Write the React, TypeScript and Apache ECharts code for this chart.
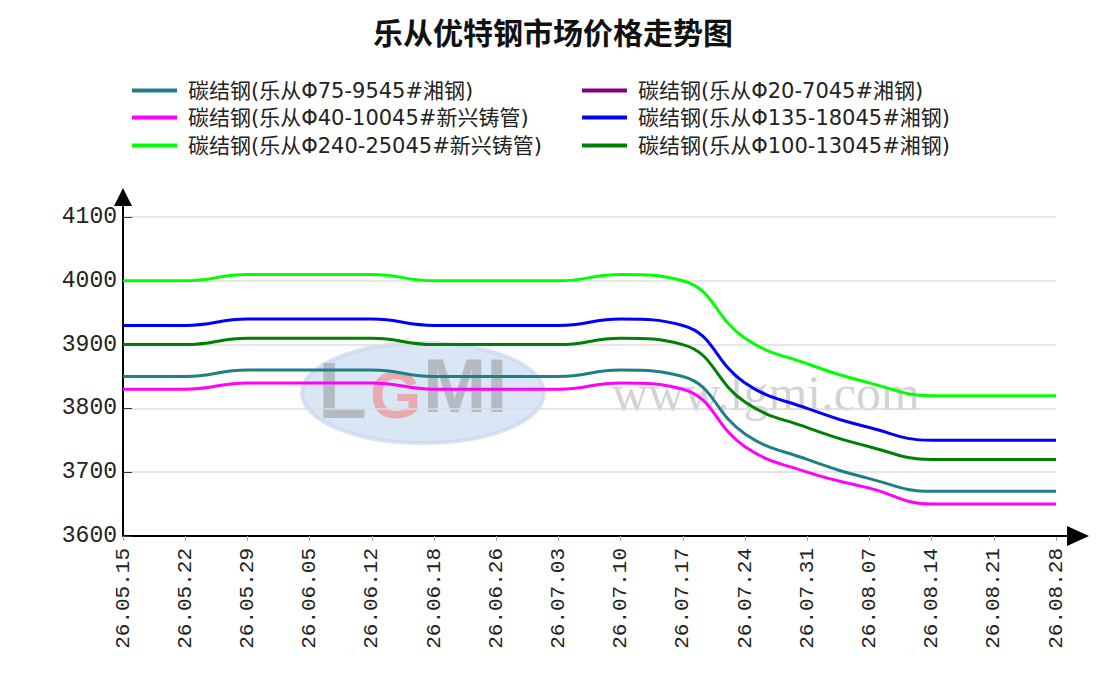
import React, { useEffect, useRef } from "react";
import * as echarts from "echarts";

const categories = [
  "26.05.15", "26.05.22", "26.05.29", "26.06.05", "26.06.12", "26.06.18",
  "26.06.26", "26.07.03", "26.07.10", "26.07.17", "26.07.24", "26.07.31",
  "26.08.07", "26.08.14", "26.08.21", "26.08.28",
];

const seriesNames = [
  "碳结钢(乐从Φ75-9545#湘钢)",
  "碳结钢(乐从Φ20-7045#湘钢)",
  "碳结钢(乐从Φ40-10045#新兴铸管)",
  "碳结钢(乐从Φ135-18045#湘钢)",
  "碳结钢(乐从Φ240-25045#新兴铸管)",
  "碳结钢(乐从Φ100-13045#湘钢)",
];

const seriesColors = ["#1f7f86", "#800080", "#ff00ff", "#0000ff", "#00ff00", "#008000"];

const phi75 = [3850, 3850, 3860, 3860, 3860, 3850, 3850, 3850, 3860, 3850, 3760, 3720, 3690, 3670, 3670, 3670];
const phi20: (number | null)[] = [];
const phi40 = [3830, 3830, 3840, 3840, 3840, 3830, 3830, 3830, 3840, 3830, 3740, 3700, 3675, 3650, 3650, 3650];
const phi135 = [3930, 3930, 3940, 3940, 3940, 3930, 3930, 3930, 3940, 3930, 3840, 3800, 3770, 3750, 3750, 3750];
const phi240 = [4000, 4000, 4010, 4010, 4010, 4000, 4000, 4000, 4010, 4000, 3910, 3870, 3840, 3820, 3820, 3820];
const phi100 = [3900, 3900, 3910, 3910, 3910, 3900, 3900, 3900, 3910, 3900, 3810, 3770, 3740, 3720, 3720, 3720];

const seriesData = [phi75, phi20, phi40, phi135, phi240, phi100];

const yTicks = { min: 3600, max: 4100, interval: 100 };

const FONT = "'Liberation Sans', 'Noto Sans CJK SC', sans-serif";
const MONO = "'Liberation Mono', monospace";

export default function App() {
  const ref = useRef<HTMLDivElement>(null);

  useEffect(() => {
    document.body.style.margin = "0";
    if (!ref.current) return;
    const chart = echarts.init(ref.current, undefined, { renderer: "svg" });

    const legendPos = [
      { left: 132, top: 80 },
      { left: 582, top: 80 },
      { left: 132, top: 107 },
      { left: 582, top: 107 },
      { left: 132, top: 135 },
      { left: 582, top: 135 },
    ];

    const option: any = {
      animation: false,
      backgroundColor: "#ffffff",
      title: {
        text: "乐从优特钢市场价格走势图",
        left: "center",
        top: 11,
        textStyle: {
          fontFamily: "'Noto Sans CJK SC', sans-serif",
          fontSize: 30,
          fontWeight: "bold",
          color: "#111",
        },
      },
      legend: seriesNames.map((n, i) => ({
        data: [n],
        left: legendPos[i].left,
        top: legendPos[i].top,
        padding: 0,
        itemWidth: 45,
        itemHeight: 4,
        icon: "rect",
        textStyle: {
          fontFamily: "'DejaVu Sans', 'Noto Sans CJK SC', sans-serif",
          fontSize: 21,
          color: "#222",
          lineHeight: 21,
          padding: [0, 0, 0, 6],
        },
      })),
      grid: { left: 123, right: 50, top: 217, bottom: 163, containLabel: false },
      xAxis: {
        type: "category",
        data: categories,
        boundaryGap: false,
        axisLine: { lineStyle: { color: "#000", width: 2 } },
        axisTick: { show: true, inside: false, length: 5, lineStyle: { color: "#aaa" } },
        axisLabel: {
          rotate: 90,
          margin: 12,
          fontSize: 21,
          fontFamily: MONO,
          color: "#222",
          interval: 0,
        },
        splitLine: { show: false },
      },
      yAxis: {
        type: "value",
        min: yTicks.min,
        max: yTicks.max,
        interval: yTicks.interval,
        axisLine: { show: true, lineStyle: { color: "#000", width: 2 } },
        axisTick: { show: true, inside: true, length: 9, lineStyle: { color: "#333" } },
        axisLabel: {
          fontSize: 23,
          fontFamily: MONO,
          color: "#222",
          margin: 6,
          formatter: (v: number) => String(v),
        },
        splitLine: { show: true, lineStyle: { color: "#dcdcdc", width: 1.5 } },
      },
      graphic: [
        {
          type: "ellipse",
          shape: { cx: 423, cy: 393, rx: 121, ry: 50 },
          style: { fill: "rgba(170,200,235,0.45)", stroke: "rgba(200,215,240,0.7)", lineWidth: 4 },
          z: 0,
          silent: true,
        },
        {
          type: "text",
          x: 318,
          y: 350,
          style: {
            text: "L",
            fontSize: 80,
            fontWeight: "bold",
            fontFamily: FONT,
            fill: "rgba(150,150,150,0.55)",
          },
          z: 0,
          silent: true,
        },
        {
          type: "text",
          x: 370,
          y: 362,
          style: {
            text: "G",
            fontSize: 66,
            fontWeight: "bold",
            fontFamily: FONT,
            fill: "rgba(240,130,130,0.6)",
          },
          z: 0,
          silent: true,
        },
        {
          type: "text",
          x: 423,
          y: 347,
          style: {
            text: "MI",
            fontSize: 76,
            fontWeight: "bold",
            fontFamily: FONT,
            fill: "rgba(150,150,150,0.55)",
          },
          z: 0,
          silent: true,
        },
        {
          type: "text",
          x: 612,
          y: 368,
          style: {
            text: "www.lgmi.com",
            fontSize: 50,
            fontFamily: "'Liberation Serif', serif",
            fill: "rgba(175,175,175,0.55)",
          },
          z: 0,
          silent: true,
        },
        {
          type: "line",
          shape: { x1: 123, y1: 217, x2: 123, y2: 200 },
          style: { stroke: "#000", lineWidth: 2 },
          z: 10,
        },
        {
          type: "polygon",
          shape: { points: [[123, 188], [114, 206], [132, 206]] },
          style: { fill: "#000" },
          z: 10,
        },
        {
          type: "line",
          shape: { x1: 1056, y1: 536, x2: 1070, y2: 536 },
          style: { stroke: "#000", lineWidth: 2 },
          z: 10,
        },
        {
          type: "polygon",
          shape: { points: [[1089, 536], [1067, 526], [1067, 546]] },
          style: { fill: "#000" },
          z: 10,
        },
      ],
      series: seriesNames.map((n, i) => ({
        name: n,
        type: "line",
        data: seriesData[i],
        smooth: 0.45,
        showSymbol: false,
        symbol: "none",
        color: seriesColors[i],
        lineStyle: { width: 3, color: seriesColors[i] },
        z: 3,
      })),
    };

    chart.setOption(option);
    return () => chart.dispose();
  }, []);

  return <div ref={ref} style={{ width: 1106, height: 699 }} />;
}
